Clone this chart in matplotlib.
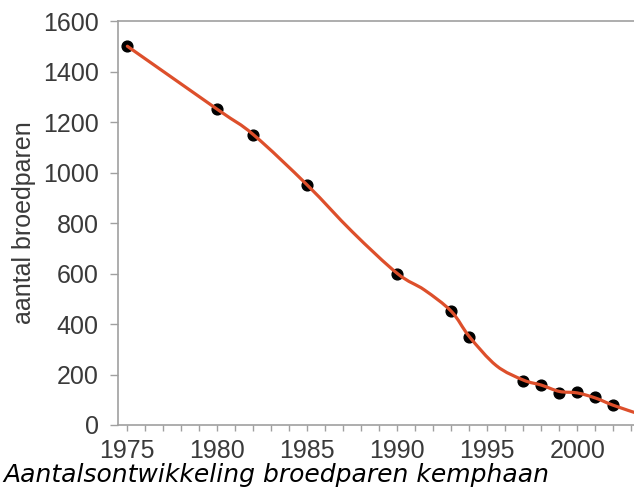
import matplotlib.pyplot as plt
from matplotlib.path import Path
from matplotlib.patches import PathPatch
from matplotlib.ticker import MultipleLocator
import numpy as np

# telling broedparen kemphaan
years = [1975, 1980, 1982, 1985, 1990, 1993, 1994, 1997, 1998, 1999, 2000, 2001, 2002]
pairs = [1500, 1250, 1150, 950, 600, 450, 350, 175, 160, 125, 130, 110, 78]

# verloop van de rode trendlijn
trend_years = [1975, 1980, 1982, 1985, 1987.5, 1990, 1991.5, 1993, 1994, 1995.5,
               1997, 1998, 1999, 2000, 2001, 2002, 2003.5]
trend_values = [1500, 1250, 1150, 950, 765, 600, 535, 450, 350, 235,
                178, 158, 133, 127, 107, 78, 42]

x_ticks = [1975, 1980, 1985, 1990, 1995, 2000]
y_ticks = [0, 200, 400, 600, 800, 1000, 1200, 1400, 1600]

ylabel = 'aantal broedparen'
caption = 'Aantalsontwikkeling broedparen kemphaan'


def smooth_path(xs, ys):
    # Catmull-Rom -> kubische Bezier, matplotlib tekent de curve
    pts = np.column_stack([xs, ys]).astype(float)
    pts = np.vstack([pts[0], pts, pts[-1]])
    verts = [pts[1]]
    codes = [Path.MOVETO]
    for i in range(1, len(pts) - 2):
        p0, p1, p2, p3 = pts[i - 1], pts[i], pts[i + 1], pts[i + 2]
        verts += [p1 + (p2 - p0) / 6, p2 - (p3 - p1) / 6, p2]
        codes += [Path.CURVE4] * 3
    return Path(verts, codes)


plt.rcParams['font.family'] = ['Liberation Sans', 'DejaVu Sans']

fig = plt.figure(figsize=(6.34, 4.9), dpi=100)
ax = fig.add_axes([118 / 634, 1 - 425 / 490, 1 - 118 / 634 + 0.01, (425 - 21) / 490])

grey = '#a0a0a0'
text_col = '#3a3a3a'

ax.scatter(years, pairs, s=60, color='black', zorder=2)
ax.add_patch(PathPatch(smooth_path(trend_years, trend_values), fill=False,
                       edgecolor='#dd4f2b', lw=2.3, zorder=3, capstyle='round'))

ax.set_xlim(1974.48, 2003.5)
ax.set_ylim(0, 1600)
ax.set_xticks(x_ticks)
ax.xaxis.set_minor_locator(MultipleLocator(1))
ax.set_yticks(y_ticks)

for s in ['left', 'top', 'bottom']:
    ax.spines[s].set_color(grey)
    ax.spines[s].set_linewidth(1.2)
ax.spines['right'].set_visible(False)

ax.tick_params(axis='x', which='both', direction='out', length=4, width=1, color=grey,
               labelsize=18, labelcolor=text_col, pad=6)
ax.tick_params(axis='y', direction='out', length=6, width=1, color=grey,
               labelsize=18, labelcolor=text_col, pad=8)

ax.set_ylabel(ylabel, fontsize=18, color=text_col, labelpad=5)

fig.text(0.006, 1 - 482 / 490, caption, fontsize=18, style='italic',
         family='DejaVu Sans', color='black', va='baseline')

fig.savefig('out.png', dpi=100)
